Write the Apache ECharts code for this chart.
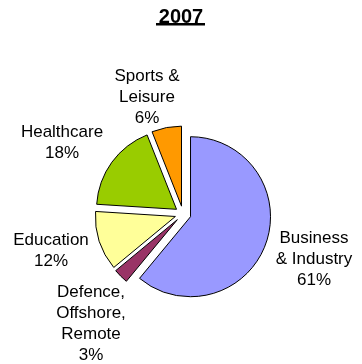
<!DOCTYPE html>
<html>
<head>
<meta charset="utf-8">
<script src="https://cdn.jsdelivr.net/npm/echarts@6/dist/echarts.min.js"></script>
<style>
  html, body { margin: 0; padding: 0; background: #ffffff; }
  #chart { width: 362px; height: 364px; }
</style>
</head>
<body>
<div id="chart"></div>
<script>
// Market share by sector, 2007
const sectors = ['Business\n& Industry', 'Defence,\nOffshore,\nRemote', 'Education', 'Healthcare', 'Sports &\nLeisure'];
const shares = [61, 3, 12, 18, 6];
const sectorColors = ['#9999FF', '#993366', '#FFFF99', '#99CC00', '#FF9900'];
const chartTitle = '2007';

// Where each sector's label block is centred
const labelAnchors = [[314, 259], [91, 324], [51, 251], [62, 143], [147, 97]];

const chart = echarts.init(document.getElementById('chart'));

const pieData = sectors.map((name, i) => ({
  name: name,
  value: shares[i],
  selected: true,
  itemStyle: { color: sectorColors[i] }
}));

// Sector labels: name followed by its share
const sectorLabels = sectors.map((name, i) => ({
  type: 'text',
  x: labelAnchors[i][0],
  y: labelAnchors[i][1],
  silent: true,
  style: {
    text: name + '\n' + shares[i] + '%',
    font: '17px "Liberation Sans"',
    lineHeight: 21,
    fill: '#000',
    textAlign: 'center',
    textVerticalAlign: 'middle'
  }
}));

chart.setOption({
  backgroundColor: '#ffffff',
  animation: false,
  title: {
    text: chartTitle,
    left: 'center',
    top: 2,
    textStyle: { fontFamily: 'Liberation Sans', fontSize: 20, fontWeight: 'bold', color: '#000' }
  },
  graphic: [{
    type: 'rect',
    shape: { x: 156, y: 23, width: 49, height: 2.5 },
    style: { fill: '#000' }
  }].concat(sectorLabels),
  series: [{
    type: 'pie',
    center: [183, 214],
    radius: [0, 80],
    startAngle: 90,
    clockwise: true,
    selectedMode: 'multiple',
    selectedOffset: 8,
    silent: true,
    itemStyle: { borderColor: '#000', borderWidth: 1 },
    label: { show: false },
    labelLine: { show: false },
    data: pieData
  }]
});
</script>
</body>
</html>
